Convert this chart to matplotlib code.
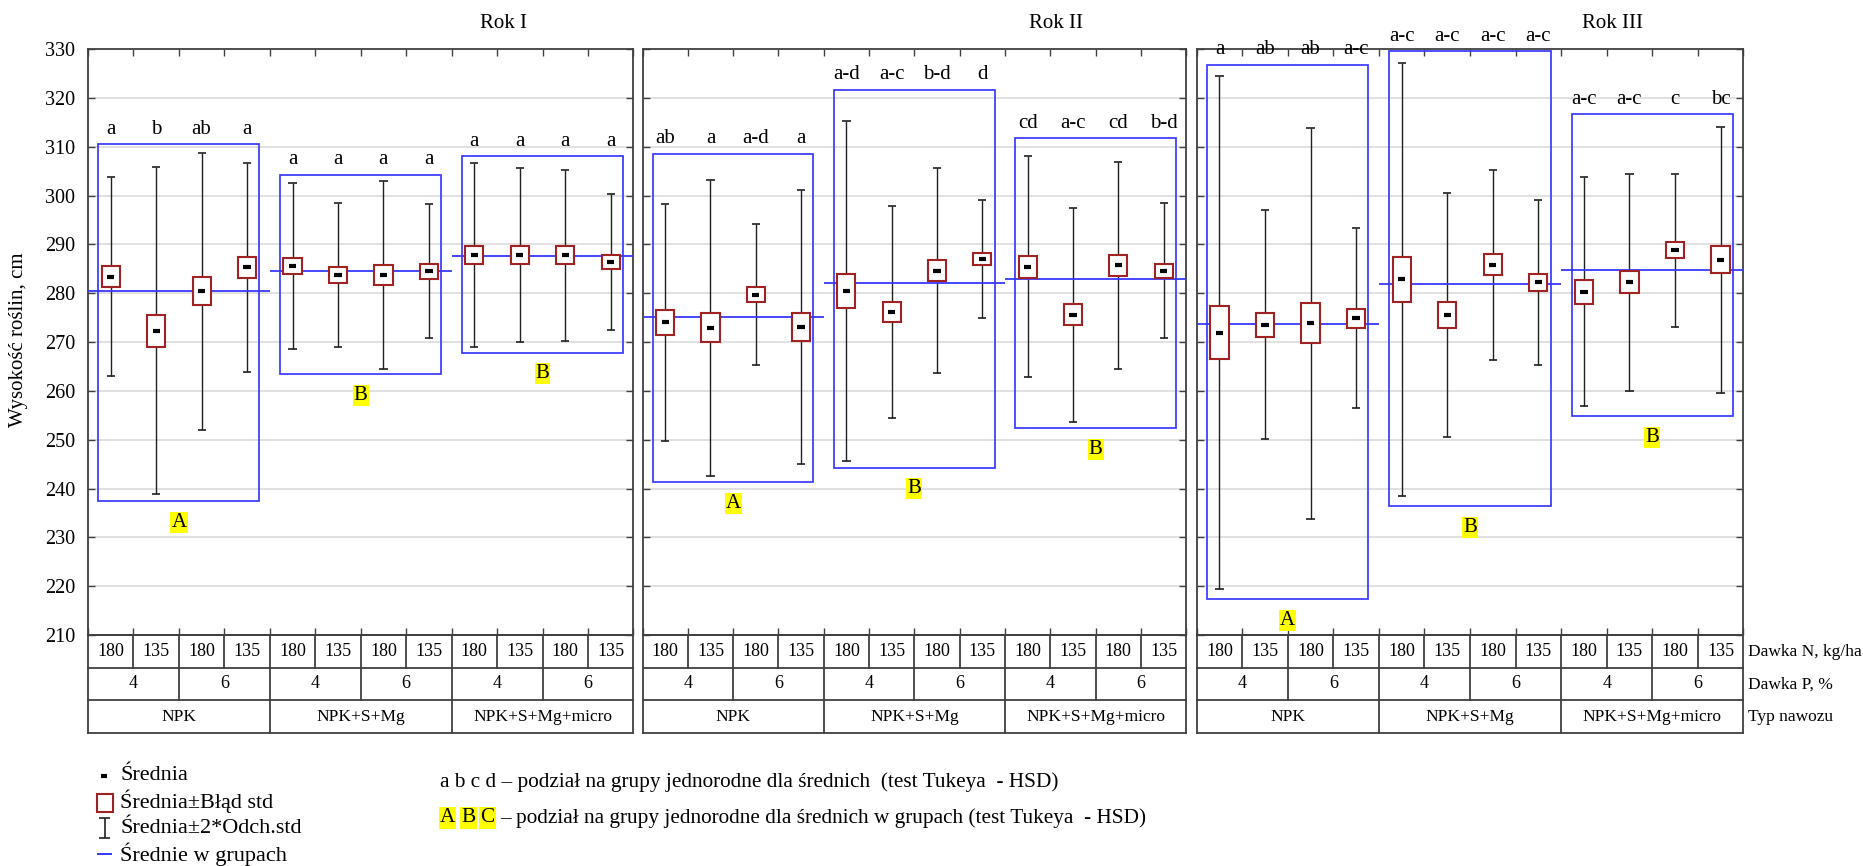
import matplotlib
matplotlib.use('Agg')
import matplotlib.pyplot as plt
from matplotlib.patches import Rectangle

plt.rcParams['font.family'] = ['Liberation Serif', 'DejaVu Serif']

# ---------------- data ----------------
years = ["Rok I", "Rok II", "Rok III"]
n_dose = ["180", "135"] * 6
p_dose = ["4", "6"] * 3
fert = ["NPK", "NPK+S+Mg", "NPK+S+Mg+micro"]
row_labels = ["Dawka N, kg/ha", "Dawka P, %", "Typ nawozu"]

means_1 = [283.4, 272.3, 280.4, 285.3, 285.6, 283.7, 283.7, 284.5, 287.8, 287.8, 287.8, 286.4]
se_1 = [2.1, 3.3, 2.9, 2.2, 1.7, 1.6, 2.0, 1.5, 1.8, 1.9, 1.8, 1.4]
sd2_1 = [20.4, 33.5, 28.4, 21.4, 17.0, 14.8, 19.2, 13.7, 18.8, 17.8, 17.5, 13.9]
gmean_1 = [280.4, 284.5, 287.55]
gbox_lo_1 = [237.4, 263.4, 267.8]
gbox_hi_1 = [310.5, 304.3, 308.15]
letters_1 = ["a", "b", "ab", "a", "a", "a", "a", "a", "a", "a", "a", "a"]
gletters_1 = ["A", "B", "B"]

means_2 = [274.0, 272.9, 279.7, 273.1, 280.5, 276.1, 284.6, 287.0, 285.4, 275.6, 285.7, 284.6]
se_2 = [2.5, 3.0, 1.5, 2.9, 3.5, 2.1, 2.2, 1.2, 2.2, 2.1, 2.2, 1.4]
sd2_2 = [24.2, 30.3, 14.4, 28.1, 34.8, 21.7, 21.0, 12.0, 22.65, 21.9, 21.2, 13.85]
gmean_2 = [275.05, 282.15, 282.8]
gbox_lo_2 = [241.25, 244.3, 252.3]
gbox_hi_2 = [308.6, 321.7, 311.7]
letters_2 = ["ab", "a", "a-d", "a", "a-d", "a-c", "b-d", "d", "cd", "a-c", "cd", "b-d"]
gletters_2 = ["A", "B", "B"]

means_3 = [271.9, 273.5, 273.8, 274.85, 282.8, 275.5, 285.8, 282.2, 280.3, 282.2, 288.8, 286.85]
se_3 = [5.4, 2.45, 4.1, 1.9, 4.6, 2.6, 2.15, 1.75, 2.45, 2.25, 1.65, 2.8]
sd2_3 = [52.5, 23.45, 40.1, 18.4, 44.4, 25.0, 19.5, 16.9, 23.5, 22.25, 15.65, 27.25]
gmean_3 = [273.6, 281.8, 284.65]
gbox_lo_3 = [217.3, 236.35, 254.8]
gbox_hi_3 = [326.8, 329.6, 316.6]
letters_3 = ["a", "ab", "ab", "a-c", "a-c", "a-c", "a-c", "a-c", "a-c", "a-c", "c", "bc"]
gletters_3 = ["A", "B", "B"]

panels = [
    (means_1, se_1, sd2_1, gmean_1, gbox_lo_1, gbox_hi_1, letters_1, gletters_1),
    (means_2, se_2, sd2_2, gmean_2, gbox_lo_2, gbox_hi_2, letters_2, gletters_2),
    (means_3, se_3, sd2_3, gmean_3, gbox_lo_3, gbox_hi_3, letters_3, gletters_3),
]

# ---------------- style ----------------
RED = '#a02222'
BLUE = '#3838ff'
FRAME = '#404040'
GRID = '#dcdcdc'

W, H = 1863, 866
fig = plt.figure(figsize=(W / 100, H / 100), dpi=100)
panel_left = [88, 642.5, 1196.7]
panel_w = [545.4, 543.8, 546.6]
ax_top, ax_bot, tab_bot = 49, 635, 733
title_x = [504, 1056, 1613]

for k, (means, se, sd2, gm, glo, ghi, lets, glets) in enumerate(panels):
    ax = fig.add_axes([panel_left[k] / W, 1 - ax_bot / H, panel_w[k] / W, (ax_bot - ax_top) / H])
    ax.set_xlim(0, 12)
    ax.set_ylim(210, 330)
    for v in range(220, 330, 10):
        ax.axhline(v, color=GRID, lw=1.2, zorder=0)
    for g in range(3):
        ax.add_patch(Rectangle((g * 4 + 0.23, glo[g]), 4 - 0.46, ghi[g] - glo[g],
                               fill=False, ec=BLUE, lw=1.25, zorder=2))
        ax.hlines(gm[g], g * 4, g * 4 + 4, color=BLUE, lw=1.3, zorder=4)
        ax.text(g * 4 + 2, glo[g] - 4.3, glets[g], ha='center', va='center', fontsize=15,
                bbox=dict(boxstyle='square,pad=0.05', fc='yellow', ec='none'), zorder=6)
    for i in range(12):
        x = i + 0.5
        m = means[i]
        ax.vlines(x, m - sd2[i], m + sd2[i], color='#202020', lw=1.0, zorder=3)
        ax.hlines([m - sd2[i], m + sd2[i]], x - 0.09, x + 0.09, color='#202020', lw=1.2, zorder=3)
        ax.add_patch(Rectangle((x - 0.2, m - se[i]), 0.4, 2 * se[i], fc='white', ec=RED,
                               lw=1.5, zorder=5))
        ax.hlines(m, x - 0.08, x + 0.08, color='black', lw=3, zorder=6)
        g = i // 4
        ax.text(x, ghi[g] + 3.0, lets[i], ha='center', va='center', fontsize=15,
                clip_on=False, zorder=7)
    ax.set_yticks(range(210, 331, 10))
    ax.set_xticks(range(0, 13))
    ax.tick_params(axis='y', direction='in', left=True, right=True, length=5, width=1,
                   color=FRAME, labelleft=(k == 0), labelsize=14.5, pad=9)
    ax.tick_params(axis='x', direction='in', top=True, bottom=True, length=5, width=1,
                   color=FRAME, labelbottom=False)
    for s in ax.spines.values():
        s.set_color(FRAME)
        s.set_linewidth(1.3)

    # table below the panel
    at = fig.add_axes([panel_left[k] / W, 1 - tab_bot / H, panel_w[k] / W, (tab_bot - ax_bot) / H])
    at.set_xlim(0, 12)
    at.set_ylim(0, 3)
    at.axis('off')
    lc = dict(color=FRAME, lw=1.3)
    for yv in [0, 1, 2, 3]:
        at.plot([0, 12], [yv, yv], **lc, clip_on=False)
    for xv in range(0, 13):
        if xv % 4 == 0:
            at.plot([xv, xv], [0, 3], **lc, clip_on=False)
        elif xv % 2 == 0:
            at.plot([xv, xv], [1, 3], **lc, clip_on=False)
        else:
            at.plot([xv, xv], [2, 3], **lc, clip_on=False)
    for i in range(12):
        at.text(i + 0.5, 2.5, n_dose[i], ha='center', va='center', fontsize=13)
    for j in range(6):
        at.text(2 * j + 1, 1.5, p_dose[j], ha='center', va='center', fontsize=13)
    for g in range(3):
        at.text(4 * g + 2, 0.5, fert[g], ha='center', va='center', fontsize=12.5)

# ---------------- overlay (titles, legend, notes) ----------------
ov = fig.add_axes([0, 0, 1, 1], zorder=-1)
ov.set_xlim(0, W)
ov.set_ylim(H, 0)
ov.axis('off')

for k in range(3):
    ov.text(title_x[k], 23, years[k], ha='center', va='center', fontsize=15)
ov.text(19, 340, 'Wysokość roślin, cm', rotation=90, ha='center', va='center', fontsize=15)

for r, yv in enumerate([652, 685, 717]):
    ov.text(1748, yv, row_labels[r], ha='left', va='center', fontsize=12.5)

# legend
ov.hlines(776, 100.5, 106.5, color='black', lw=3)
ov.add_patch(Rectangle((96.5, 794), 16, 17.5, fill=False, ec=RED, lw=1.5))
ov.vlines(104.5, 818, 838, color='#202020', lw=1.2)
ov.hlines([818, 838], 99, 110, color='#202020', lw=1.2)
ov.hlines(854, 97, 112, color=BLUE, lw=1.4)
leg_texts = ['Średnia', 'Średnia±Błąd std', 'Średnia±2*Odch.std', 'Średnie w grupach']
for t, yv in zip(leg_texts, [775, 801.7, 828.3, 854]):
    ov.text(120, yv, t, ha='left', va='center', fontsize=16)

# notes
ov.text(440, 782, 'a b c d – podział na grupy jednorodne dla średnich  (test Tukeya  - HSD)',
        ha='left', va='center', fontsize=15.3)
hl = dict(boxstyle='square,pad=0.05', fc='yellow', ec='none')
for lt, xv in zip(['A', 'B', 'C'], [440, 461.5, 480.5]):
    ov.text(xv, 818, lt, ha='left', va='center', fontsize=15.3, bbox=hl)
ov.text(500, 818, '– podział na grupy jednorodne dla średnich w grupach (test Tukeya  - HSD)',
        ha='left', va='center', fontsize=15.3)

fig.savefig('out.png', dpi=100)
